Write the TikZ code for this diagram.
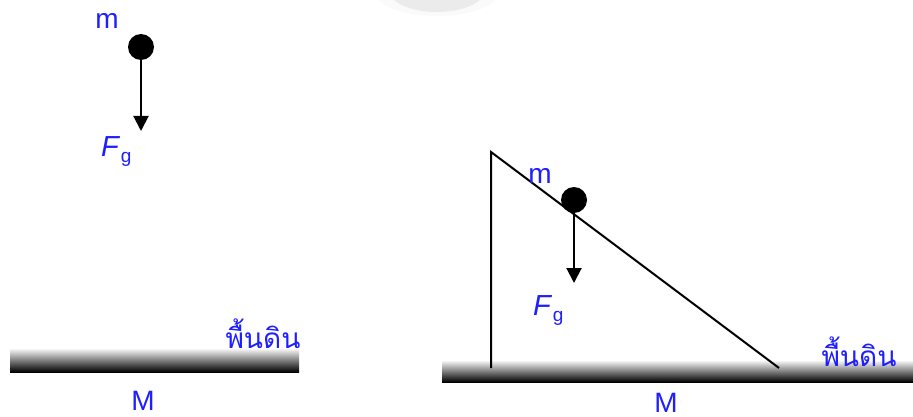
\documentclass[tikz,border=0pt]{standalone}
\usepackage{fontspec}
\setmainfont{Liberation Sans}
\newfontfamily\thaifont[Script=Thai]{Loma}
\usetikzlibrary{arrows.meta}
\definecolor{lbl}{RGB}{30,30,255}
\tikzset{
  ball/.style={circle,fill=black,inner sep=0pt,minimum size=26pt},
  force/.style={line width=2pt,-{Triangle[length=15pt,width=15pt]}},
  edge/.style={line width=2pt},
  lab/.style={text=lbl,inner sep=0pt,anchor=base,font=\fontsize{28}{28}\selectfont},
  thai/.style={text=lbl,inner sep=0pt,anchor=base,font=\thaifont\fontsize{28}{28}\selectfont},
  fg/.style={text=lbl,inner sep=0pt,anchor=base west}
}
\newcommand{\fgtext}{{\fontsize{29}{29}\selectfont\itshape F}\hspace{2pt}\raisebox{-6pt}{\fontsize{19}{19}\selectfont g}}
\begin{document}
\begin{tikzpicture}[x=1pt,y=-1pt]
\useasboundingbox (0,0) rectangle (913,417);
% faint watermark blob
\fill[gray!4] (437,-8) ellipse [x radius=62,y radius=24];
\fill[gray!16] (437,-10) ellipse [x radius=48,y radius=22];
% grounds
\shade[top color=white,middle color=gray!55,bottom color=black] (10,348) rectangle (299,372);
\shade[top color=white,middle color=gray!55,bottom color=black] (442,360) rectangle (913,382);
% left panel
\node[ball] (b1) at (141,47) {};
\coordinate (t1) at (141,131);
\draw[force] (b1.center) -- (t1);
\node[lab] (m1) at (107,29) {m};
\node[fg] (f1) at (101,157) {\fgtext};
\node[thai] (g1) at (263,348) {พื้นดิน};
\node[lab] (M1) at (143,410) {M};
% right panel
\coordinate (top) at (491,152);
\coordinate (bot) at (491,368);
\coordinate (toe) at (779,368);
\draw[edge] (bot) -- (top) -- (toe);
\node[ball] (b2) at (574,200) {};
\coordinate (t2) at (574,283);
\draw[force] (b2.center) -- (t2);
\node[lab] (m2) at (540,183) {m};
\node[fg] (f2) at (533,315) {\fgtext};
\node[thai] (g2) at (859,366) {พื้นดิน};
\node[lab] (M2) at (666,412) {M};
\end{tikzpicture}
\end{document}
